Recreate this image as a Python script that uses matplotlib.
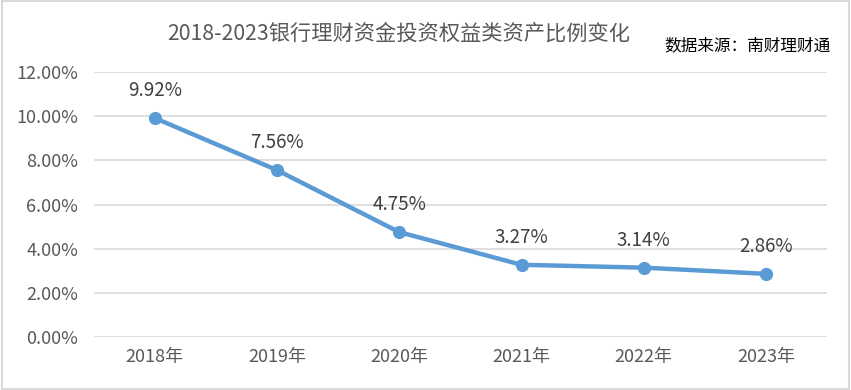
import matplotlib.pyplot as plt
from matplotlib.patches import Rectangle

plt.rcParams['font.family'] = ['Noto Sans CJK SC', 'DejaVu Sans']

years = ['2018年', '2019年', '2020年', '2021年', '2022年', '2023年']
ratio = [9.92, 7.56, 4.75, 3.27, 3.14, 2.86]
yticks = [0, 2, 4, 6, 8, 10, 12]

txt = '#595959'
blue = '#5B9BD5'

fig = plt.figure(figsize=(8.51, 3.9), dpi=100)
ax = fig.add_axes([0.110, 0.136, 0.862, 0.679])

x = list(range(len(years)))
ax.plot(x, ratio, color=blue, lw=3.2, marker='o', ms=8.5, zorder=3, clip_on=False)
for xi, v in zip(x, ratio):
    ax.annotate(f'{v:.2f}%', (xi, v), xytext=(0, 12), textcoords='offset points',
                ha='center', va='bottom', fontsize=13.5, color='#404040')

ax.set_xlim(-0.5, len(years) - 0.5)
ax.set_ylim(0, 12)
ax.set_yticks(yticks)
ax.set_yticklabels([f'{t:.2f}%' for t in yticks])
ax.set_xticks(x)
ax.set_xticklabels(years)
ax.grid(axis='y', color='#d9d9d9', lw=1.2)
ax.set_axisbelow(True)
for s in ax.spines.values():
    s.set_visible(False)
ax.tick_params(length=0, labelsize=13, colors=txt)
ax.tick_params(axis='x', pad=8)
ax.tick_params(axis='y', pad=11)

fig.text(0.469, 0.915, '2018-2023银行理财资金投资权益类资产比例变化', ha='center', va='center',
         fontsize=15.3, color=txt)
fig.text(0.976, 0.883, '数据来源：南财理财通', ha='right', va='center', fontsize=12, color='black')

fig.patches.append(Rectangle((0.002, 0.003), 0.996, 0.994, transform=fig.transFigure,
                             fill=False, edgecolor='#d9d9d9', lw=1.5))

fig.savefig('out.png', dpi=100)
